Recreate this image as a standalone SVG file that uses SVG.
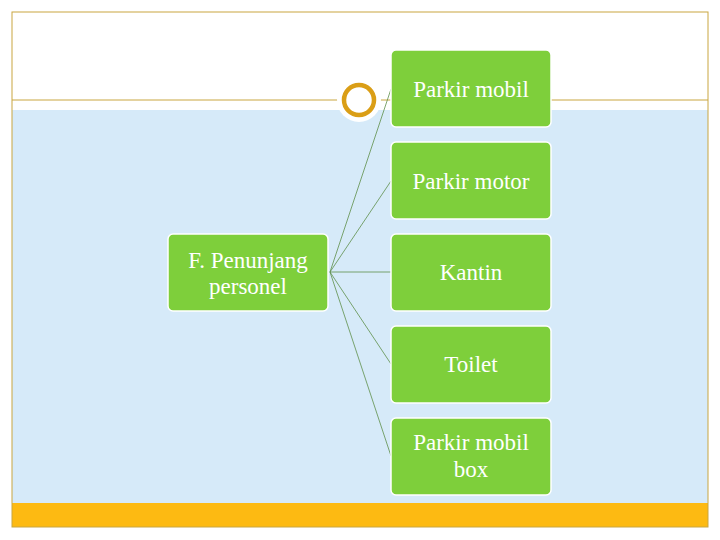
<svg xmlns="http://www.w3.org/2000/svg" width="720" height="540" viewBox="0 0 720 540">
<style>
.b{fill:#7ECF3B;stroke:#fff;stroke-width:1.5}
.t{font-family:"Liberation Serif",serif;font-size:23px;fill:#fff;text-anchor:middle}
.c{stroke:#5E8F4A;stroke-width:0.8;fill:none}
</style>
<rect x="0" y="0" width="720" height="540" fill="#fff"/>
<rect x="12" y="110" width="696" height="393" fill="#D6EAF9"/>
<rect x="12" y="503" width="696" height="24" fill="#FDBA12"/>
<rect x="12" y="12" width="696" height="515" fill="none" stroke="#C9A640" stroke-width="1"/>
<line x1="12" y1="100" x2="708" y2="100" stroke="#C9A640" stroke-width="1"/>
<circle cx="359" cy="100" r="22" fill="#fff"/>
<circle cx="359" cy="100" r="15" fill="#fff" stroke="#DA9E16" stroke-width="4.5"/>
<g id="connectors">
<line class="c" x1="330" y1="272" x2="391" y2="89"/>
<line class="c" x1="330" y1="272" x2="391" y2="181"/>
<line class="c" x1="330" y1="272" x2="391" y2="272"/>
<line class="c" x1="330" y1="272" x2="391" y2="364"/>
<line class="c" x1="330" y1="272" x2="391" y2="456"/>
</g>
<g id="root"><rect class="b" x="168" y="234" width="160" height="77" rx="5"/><text class="t" x="248" y="268">F. Penunjang</text><text class="t" x="248" y="294">personel</text></g>
<g id="n1"><rect class="b" x="391" y="50" width="160" height="77" rx="5"/><text class="t" x="471" y="97">Parkir mobil</text></g>
<g id="n2"><rect class="b" x="391" y="142" width="160" height="77" rx="5"/><text class="t" x="471" y="189">Parkir motor</text></g>
<g id="n3"><rect class="b" x="391" y="234" width="160" height="77" rx="5"/><text class="t" x="471" y="280">Kantin</text></g>
<g id="n4"><rect class="b" x="391" y="326" width="160" height="77" rx="5"/><text class="t" x="471" y="372">Toilet</text></g>
<g id="n5"><rect class="b" x="391" y="418" width="160" height="77" rx="5"/><text class="t" x="471" y="450">Parkir mobil</text><text class="t" x="471" y="477">box</text></g>
</svg>
